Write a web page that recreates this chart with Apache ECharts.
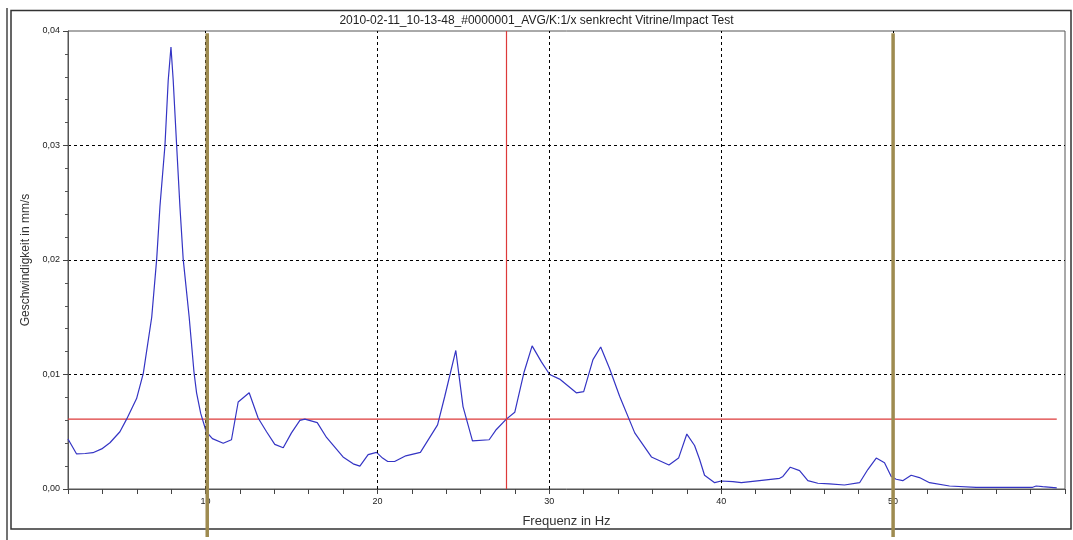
<!DOCTYPE html>
<html>
<head>
<meta charset="utf-8">
<script src="https://cdn.jsdelivr.net/npm/echarts@6/dist/echarts.min.js"></script>
<style>
html,body{margin:0;padding:0;background:#fff;}
#chart{width:1073px;height:540px;}
</style>
</head>
<body>
<div id="chart"></div>
<script>
// ---- data ----
const titleText = "2010-02-11_10-13-48_#0000001_AVG/K:1/x senkrecht Vitrine/Impact Test";
const freqHz = [2.0,2.5,3.0,3.45,3.96,4.44,5.02,5.41,5.99,6.38,6.87,7.16,7.35,7.64,7.83,7.99,8.12,8.32,8.51,8.70,9.05,9.33,9.48,9.72,10.04,10.4,11.03,11.51,11.9,12.54,13.06,13.55,14.03,14.52,15.0,15.49,15.78,16.5,17.04,18.0,18.59,18.98,19.46,19.95,20.3,20.6,21.0,21.65,22.5,23.5,23.92,24.56,24.98,25.53,26.5,26.92,27.5,27.99,28.53,29.0,29.54,30.02,30.6,31.57,32.0,32.54,32.99,33.51,34.09,34.97,35.94,36.96,37.52,38.0,38.45,38.74,39.03,39.62,40.0,40.68,41.17,42.23,43.4,43.59,44.02,44.56,45.04,45.62,46.3,47.17,48.05,48.53,49.02,49.5,49.89,50.18,50.56,51.05,51.53,52.12,53.28,54.83,58.12,58.32,58.7,59.52];
const velocity = [0.00437,0.00306,0.0031,0.00317,0.0035,0.00404,0.0050,0.0061,0.0079,0.0101,0.0150,0.0201,0.0247,0.0300,0.0357,0.0386,0.0357,0.0300,0.0247,0.0201,0.0150,0.0102,0.0084,0.0066,0.0050,0.0044,0.0040,0.0043,0.0076,0.0084,0.0062,0.0050,0.0039,0.0036,0.0049,0.0060,0.0061,0.0058,0.0045,0.0028,0.0022,0.0020,0.0030,0.0032,0.0027,0.0024,0.0024,0.0029,0.0032,0.0056,0.0081,0.0121,0.0072,0.0042,0.0043,0.0052,0.0061,0.0067,0.0102,0.0125,0.0111,0.0100,0.0096,0.0084,0.0085,0.0113,0.0124,0.0105,0.0081,0.0049,0.0028,0.0021,0.0027,0.0048,0.0038,0.0026,0.0012,0.00055,0.0007,0.00064,0.00055,0.00073,0.00093,0.0011,0.0019,0.0016,0.00073,0.0005,0.00044,0.00035,0.00055,0.0017,0.0027,0.0023,0.0011,0.00085,0.00073,0.0012,0.0010,0.00055,0.00026,0.00015,0.00015,0.00026,0.0002,0.0001];
const xLabelTicks = [10,20,30,40,50];
const thresholdValue = 0.0061;
const cursorHz = 27.52;
const bandHz = [10.1, 50.0];

const FONT = "'Liberation Sans', Arial, sans-serif";
const RED = '#dd3a3a';
const chart = echarts.init(document.getElementById('chart'), null, {renderer:'canvas'});

const gridLines = xLabelTicks.map(v => ({xAxis: v, lineStyle:{color:'#000', type:[3,3], width:1}}));

const option = {
  animation:false,
  backgroundColor:'#fff',
  title:{
    text:titleText, left:'center', top:10,
    textStyle:{fontFamily:FONT, fontSize:12, fontWeight:'normal', color:'#222'}
  },
  grid:{left:68, right:8, top:31, bottom:51, show:true, borderColor:'#555', borderWidth:1, backgroundColor:'#fff'},
  xAxis:{
    type:'value', min:2, max:60, interval:2,
    name:'Frequenz in Hz', nameLocation:'middle', nameGap:26,
    nameTextStyle:{fontFamily:FONT, fontSize:13, color:'#333'},
    axisLine:{show:true, lineStyle:{color:'#555', width:1}},
    axisTick:{show:true, length:5, lineStyle:{color:'#444'}},
    axisLabel:{fontFamily:FONT, fontSize:9, color:'#222', margin:8,
      formatter:v => (xLabelTicks.indexOf(v) >= 0 ? String(v) : '')},
    splitLine:{show:false}
  },
  yAxis:{
    type:'value', min:0, max:0.04, interval:0.01,
    name:'Geschwindigkeit in mm/s', nameLocation:'middle', nameGap:35,
    nameTextStyle:{fontFamily:FONT, fontSize:12, color:'#333'},
    axisLine:{show:true, lineStyle:{color:'#555', width:1}},
    axisTick:{show:true, length:5, lineStyle:{color:'#444'}},
    minorTick:{show:true, splitNumber:5, length:3, lineStyle:{color:'#555'}},
    axisLabel:{fontFamily:FONT, fontSize:9, color:'#222', margin:8,
      formatter:v => v.toFixed(2).replace('.', ',')},
    splitLine:{show:true, showMinLine:false, showMaxLine:false, lineStyle:{color:'#000', type:[3,3], width:1}}
  },
  series:[
    {
      type:'line', name:'grid', data:[], silent:true,
      markLine:{silent:true, symbol:['none','none'], label:{show:false}, animation:false, data:gridLines}
    },
    {
      type:'line', name:'threshold', silent:true,
      data:[[freqHz[0], thresholdValue], [freqHz[freqHz.length-1], thresholdValue]],
      showSymbol:false, symbol:'none',
      lineStyle:{color:RED, width:1.2}, itemStyle:{color:RED}, z:2
    },
    {
      type:'line', name:'velocity',
      data:freqHz.map((f,i)=>[f, velocity[i]]),
      showSymbol:false, symbol:'none', smooth:false,
      lineStyle:{color:'#3434c4', width:1.2},
      z:3,
      markLine:{
        silent:true, symbol:['none','none'], label:{show:false}, animation:false,
        lineStyle:{color:RED, width:1.2, type:'solid'},
        data:[{xAxis:cursorHz}]
      }
    }
  ]
};
chart.setOption(option);

// olive band markers extend beyond the plot area; position them via the axis scale
const topPx = chart.convertToPixel({yAxisIndex:0}, 0.0398);
const graphics = bandHz.map(f => {
  const x = chart.convertToPixel({xAxisIndex:0}, f);
  return {type:'line', silent:true, z:100,
    shape:{x1:x, y1:topPx, x2:x, y2:537},
    style:{stroke:'#9e8b50', lineWidth:3.5}};
});
// outer frame
graphics.push({type:'rect', silent:true, z:0, shape:{x:11, y:10.5, width:1060, height:518.5},
  style:{fill:null, stroke:'#333', lineWidth:1.5}});
graphics.push({type:'line', silent:true, z:0, shape:{x1:7, y1:8, x2:7, y2:540},
  style:{stroke:'#444', lineWidth:1.5}});
chart.setOption({graphic:graphics});
</script>
</body>
</html>
